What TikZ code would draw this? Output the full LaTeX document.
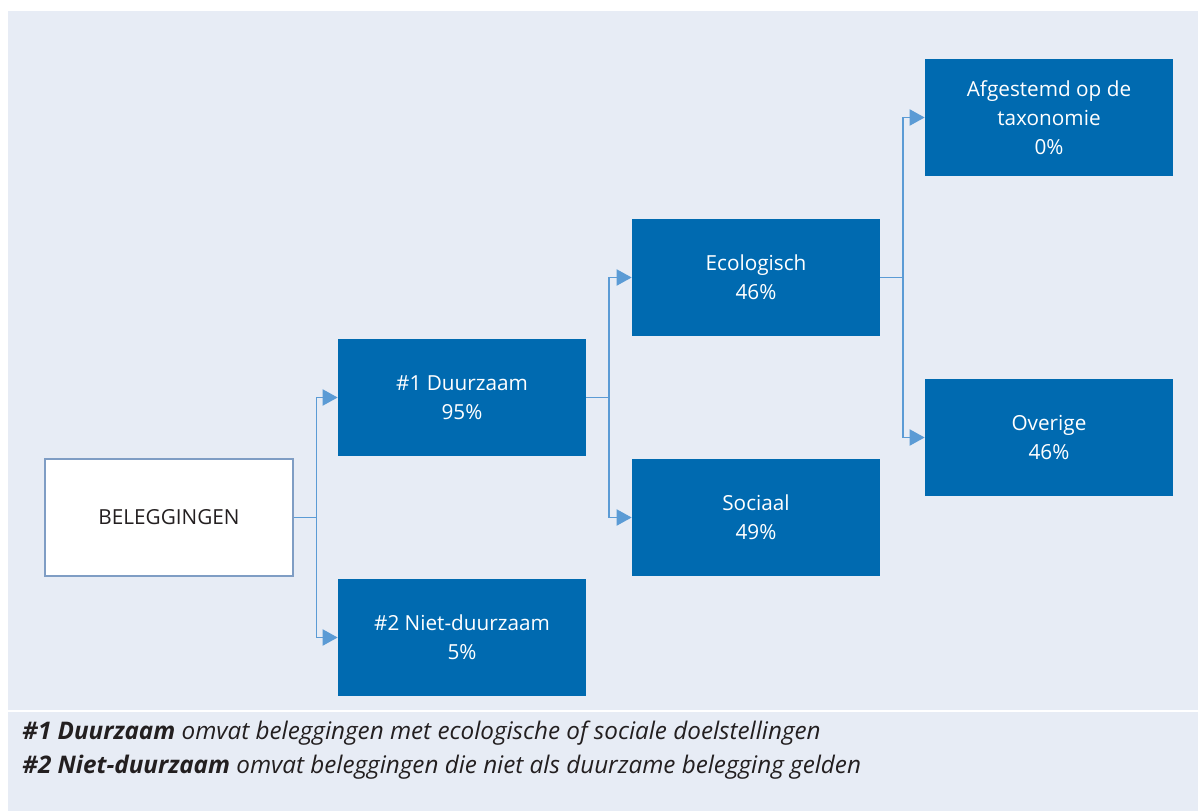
\documentclass[tikz,border=0pt]{standalone}
\usepackage{fontspec}
\setmainfont{Open Sans}
\usepackage{tikz}
\usetikzlibrary{arrows.meta,positioning}
\definecolor{panel}{HTML}{E7ECF5}
\definecolor{boxblue}{HTML}{006AB0}
\definecolor{linkblue}{HTML}{5B9BD5}
\definecolor{rootedge}{HTML}{7F9DC4}
\definecolor{ink}{HTML}{231F20}
\tikzset{
  catbox/.style={draw=none,fill=boxblue,text=white,align=center,
                 minimum width=4.96cm,minimum height=2.34cm,inner sep=2pt,
                 font=\fontsize{11.8}{16.5}\selectfont},
  rootbox/.style={draw=rootedge,fill=white,text=ink,line width=0.6pt,
                  minimum width=4.96cm,minimum height=2.34cm,inner sep=2pt,
                  font=\fontsize{11.8}{16.5}\selectfont},
  link/.style={-{Triangle[length=3mm,width=3.2mm]},draw=linkblue,
               line width=1.1pt},
  note/.style={anchor=base west,text=ink,inner sep=0pt,
               font=\fontsize{13.8}{18}\selectfont\itshape}
}

\begin{document}
\begin{tikzpicture}[x=0.02cm,y=-0.02cm]
    \useasboundingbox (0,0) rectangle (1198,811);
    \fill[white] (0,0) rectangle (1198,811);
    \fill[panel] (8,11) rectangle (1198,811);
    \draw[white,line width=1.2pt] (8,711) -- (1198,711);

    \node[rootbox] (beleg) at (169,517.5) {BELEGGINGEN};
    \node[catbox] (duur) at (462,397.5) {\#1 Duurzaam\\95\%};
    \node[catbox] (nietduur) at (462,637.5) {\#2 Niet-duurzaam\\5\%};
    \node[catbox] (eco) at (756,277.5) {Ecologisch\\46\%};
    \node[catbox] (sociaal) at (756,517.5) {Sociaal\\49\%};
    \node[catbox] (taxo) at (1049,117.5)
      {Afgestemd op de\\taxonomie\\0\%};
    \node[catbox] (overig) at (1049,437.5) {Overige\\46\%};

    % vertakkingen
    \draw[link] (beleg.east) -- ++(23,0) |- (duur.west);
    \draw[link] (beleg.east) -- ++(23,0) |- (nietduur.west);
    \draw[link] (duur.east) -- ++(23,0) |- (eco.west);
    \draw[link] (duur.east) -- ++(23,0) |- (sociaal.west);
    \draw[link] (eco.east) -- ++(23,0) |- (taxo.west);
    \draw[link] (eco.east) -- ++(23,0) |- (overig.west);

    \node[note] (note1) at (22,739)
      {\textbf{\#1 Duurzaam} omvat beleggingen met ecologische of sociale doelstellingen};
    \node[note] (note2) at (22,773)
      {\textbf{\#2 Niet-duurzaam} omvat beleggingen die niet als duurzame belegging gelden};
\end{tikzpicture}
\end{document}
